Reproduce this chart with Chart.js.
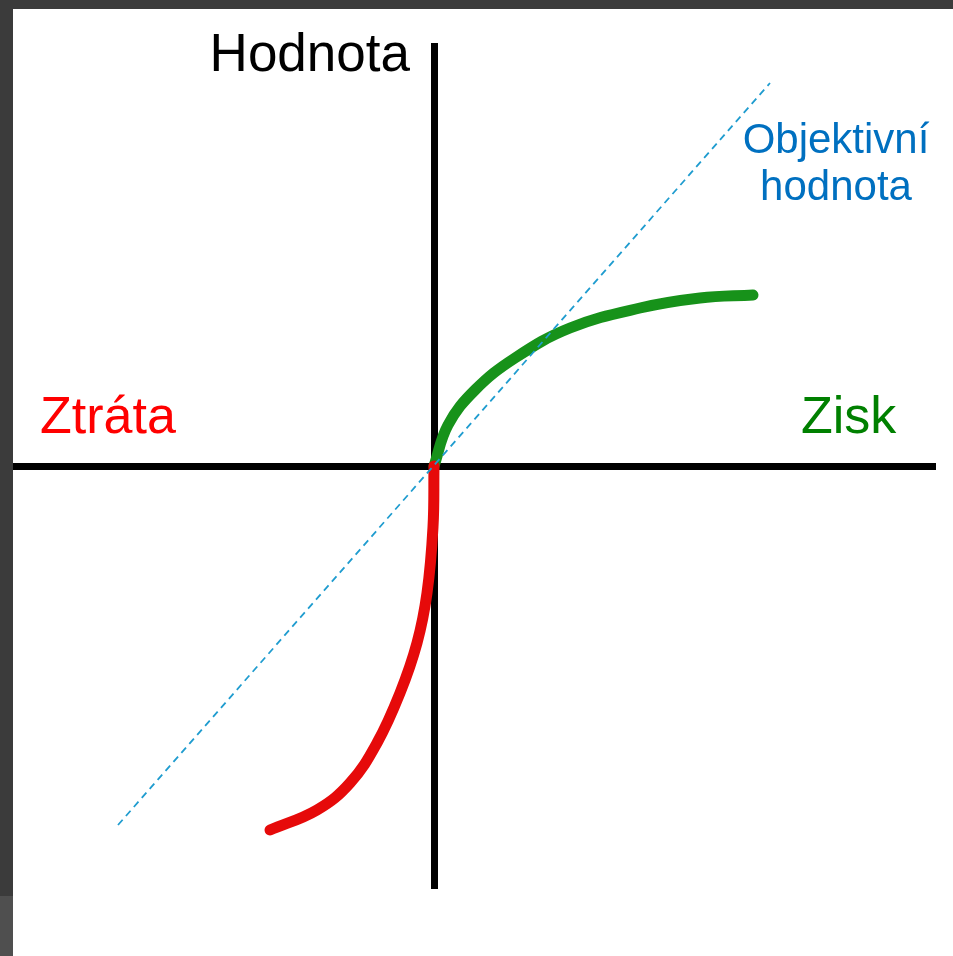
<!DOCTYPE html>
<html><head><meta charset="utf-8">
<script src="https://cdn.jsdelivr.net/npm/chart.js@4.4.0/dist/chart.umd.min.js"></script>
<style>
html,body{margin:0;padding:0;background:#3b3b3b;width:953px;height:956px;overflow:hidden}
#lower{position:absolute;left:0;top:896px;width:13px;height:60px;background:#4f4f4f}
#wrap{position:absolute;left:13px;top:9px;width:940px;height:947px;background:#fff}
canvas{display:block}
</style></head><body>
<div id="lower"></div>
<div id="wrap"><canvas id="c" width="940" height="947"></canvas></div>
<script>
// Data (value units, origin = reference point)
const gainX = [0, 0.14, 0.41, 0.81, 1.36, 2.06, 2.66, 3.19];
const gainY = [0, 0.41, 0.76, 1.08, 1.38, 1.58, 1.68, 1.71];
const lossX = [-1.64, -1.17, -0.84, -0.57, -0.34, -0.17, -0.07, -0.01, 0];
const lossY = [-3.64, -3.44, -3.17, -2.77, -2.27, -1.77, -1.27, -0.61, 0];
const objX = [-3.16, 3.36];
const objY = [-3.59, 3.83];
const xRange = [-4.21, 5.01];
const yRange = [-4.22, 4.20];
const yTitle = 'Hodnota';
const lossLabel = 'Ztráta';
const gainLabel = 'Zisk';
const objLabel = ['Objektivní', 'hodnota'];

const pts = (xs, ys) => xs.map((x, i) => ({x, y: ys[i]}));

const textPlugin = {
  id: 'texts',
  afterDatasetsDraw(chart) {
    const {ctx, chartArea, scales} = chart;
    const ox = scales.x.getPixelForValue(0);
    const oy = scales.y.getPixelForValue(0);
    ctx.save();
    ctx.textBaseline = 'alphabetic';
    ctx.font = '53px "Liberation Sans", Arial, sans-serif';
    ctx.fillStyle = '#000';
    ctx.textAlign = 'right';
    ctx.fillText(yTitle, ox - 24, chartArea.top + 25);
    ctx.font = '52px "Liberation Sans", Arial, sans-serif';
    ctx.textAlign = 'left';
    ctx.fillStyle = '#ff0000';
    ctx.fillText(lossLabel, chartArea.left + 27, oy - 33);
    ctx.fillStyle = '#008000';
    ctx.fillText(gainLabel, ox + 367, oy - 33);
    ctx.font = '42px "Liberation Sans", Arial, sans-serif';
    ctx.textAlign = 'center';
    ctx.fillStyle = '#0070c0';
    ctx.fillText(objLabel[0], ox + 402, chartArea.top + 107);
    ctx.fillText(objLabel[1], ox + 402, chartArea.top + 154);
    ctx.restore();
  }
};

const axisOpts = (min, max, pos) => ({
  type: 'linear', min, max, position: pos,
  grid: {display: false, drawTicks: false},
  ticks: {display: false},
  title: {display: false},
  border: {display: true, color: '#000', width: 7}
});

new Chart(document.getElementById('c'), {
  type: 'scatter',
  data: {
    datasets: [
      {label: 'Objektivní hodnota', data: pts(objX, objY), showLine: true, borderColor: '#1f9ccf',
       borderWidth: 1.8, borderDash: [7, 5], pointRadius: 0, fill: false, tension: 0},
      {label: 'Ztráta', data: pts(lossX, lossY), showLine: true, borderColor: '#e60a0a',
       borderWidth: 11, pointRadius: 0, fill: false, tension: 0.4, borderCapStyle: 'round'},
      {label: 'Zisk', data: pts(gainX, gainY), showLine: true, borderColor: '#17921a',
       borderWidth: 11, pointRadius: 0, fill: false, tension: 0.4, borderCapStyle: 'round'}
    ]
  },
  options: {
    responsive: false,
    animation: false,
    devicePixelRatio: 1,
    layout: {padding: {left: 0, right: 18, top: 37, bottom: 68}},
    plugins: {legend: {display: false}, tooltip: {enabled: false}, title: {display: false}},
    scales: {
      x: axisOpts(xRange[0], xRange[1], {y: 0}),
      y: axisOpts(yRange[0], yRange[1], {x: 0})
    }
  },
  plugins: [textPlugin]
});
</script>
</body></html>
